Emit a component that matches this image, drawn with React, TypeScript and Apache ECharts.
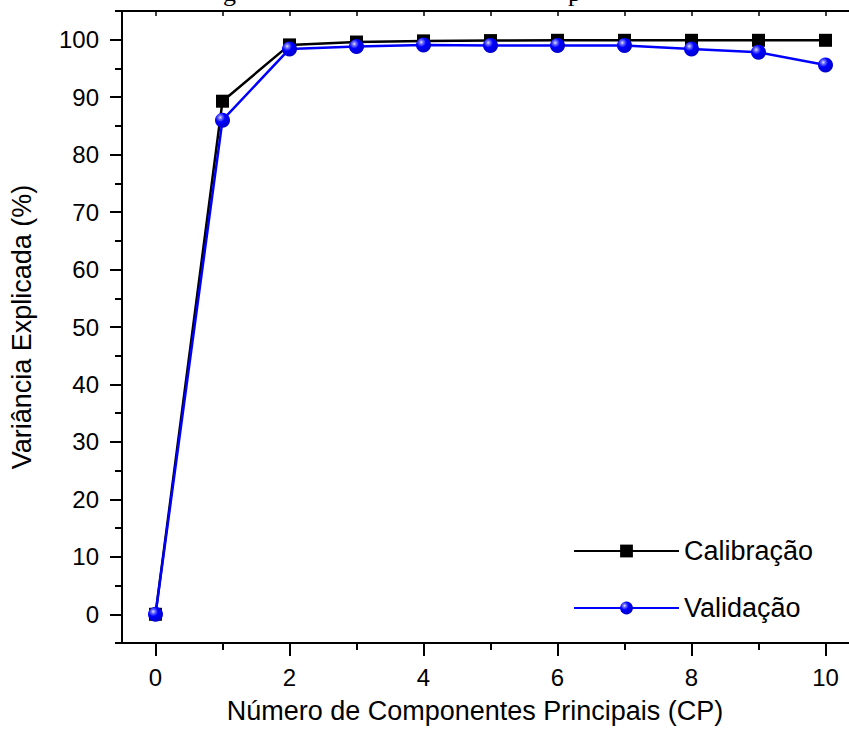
import React, { useEffect, useRef } from "react";
import * as echarts from "echarts";

const components = [0, 1, 2, 3, 4, 5, 6, 7, 8, 9, 10];
const calibracao = [0, 89.3, 99.1, 99.6, 99.8, 99.85, 99.9, 99.9, 99.9, 99.9, 99.9];
const validacao = [0, 86.0, 98.4, 98.8, 99.1, 99.0, 99.0, 99.0, 98.4, 97.8, 95.6];
const xMajorTicks = [0, 2, 4, 6, 8, 10];
const xMinorTicks = [1, 3, 5, 7, 9];
const xTopTicks = [0, 1, 2, 3, 4, 5, 6, 7, 8, 9, 10];
const yMajorTicks = [0, 10, 20, 30, 40, 50, 60, 70, 80, 90, 100];

const FONT = "'Liberation Sans', Arial, sans-serif";

export default function App() {
  const ref = useRef<HTMLDivElement>(null);
  useEffect(() => {
    if (!ref.current) return;
    const chart = echarts.init(ref.current, null, { renderer: "svg" });
    const axisLine = { show: true, onZero: false, lineStyle: { color: "#000", width: 2 } };
    const noLine = { show: false, onZero: false };
    const sphere = new echarts.graphic.RadialGradient(0.35, 0.32, 0.7, [
      { offset: 0, color: "#e8e8ff" },
      { offset: 0.18, color: "#7070ff" },
      { offset: 0.45, color: "#0000ff" },
      { offset: 1, color: "#0000cc" },
    ]);
    chart.setOption({
      animation: false,
      backgroundColor: "#fff",
      grid: { left: 118, top: 11, width: 741, height: 633, containLabel: false },
      xAxis: [
        {
          type: "value",
          min: -0.5,
          max: 10.5,
          position: "bottom",
          axisLine,
          splitLine: { show: false },
          axisTick: {
            show: true,
            inside: false,
            length: 13,
            customValues: xMajorTicks,
            lineStyle: { color: "#000", width: 2 },
          },
          axisLabel: {
            show: true,
            customValues: xMajorTicks,
            margin: 22,
            fontSize: 24,
            fontFamily: FONT,
            color: "#000",
          },
          name: "Número de Componentes Principais (CP)",
          nameLocation: "middle",
          nameGap: 54,
          nameTextStyle: {
            fontSize: 27,
            fontFamily: FONT,
            color: "#000",
            padding: [0, 31, 0, 0],
          },
        },
        {
          type: "value",
          min: -0.5,
          max: 10.5,
          position: "bottom",
          axisLine: noLine,
          splitLine: { show: false },
          axisLabel: { show: false },
          axisTick: {
            show: true,
            length: 7,
            customValues: xMinorTicks,
            lineStyle: { color: "#000", width: 2 },
          },
        },
        {
          type: "value",
          min: -0.5,
          max: 10.5,
          position: "top",
          axisLine,
          splitLine: { show: false },
          axisLabel: { show: false },
          axisTick: {
            show: true,
            inside: true,
            length: 5,
            customValues: xTopTicks,
            lineStyle: { color: "#000", width: 1.5 },
          },
        },
      ],
      yAxis: [
        {
          type: "value",
          min: -5,
          max: 105,
          position: "left",
          axisLine,
          splitLine: { show: false },
          axisTick: {
            show: true,
            length: 12,
            customValues: yMajorTicks,
            lineStyle: { color: "#000", width: 2 },
          },
          axisLabel: {
            show: true,
            customValues: yMajorTicks,
            margin: 23,
            fontSize: 24,
            fontFamily: FONT,
            color: "#000",
          },
          name: "Variância Explicada (%)",
          nameLocation: "middle",
          nameGap: 87,
          nameTextStyle: { fontSize: 27, fontFamily: FONT, color: "#000" },
        },
        {
          type: "value",
          min: -5,
          max: 105,
          interval: 5,
          position: "left",
          axisLine: noLine,
          splitLine: { show: false },
          axisLabel: { show: false },
          axisTick: { show: true, length: 7, lineStyle: { color: "#000", width: 2 } },
        },
      ],
      legend: {
        orient: "vertical",
        left: 573,
        top: 536,
        padding: 0,
        itemWidth: 105,
        itemHeight: 16,
        itemGap: 27,
        textStyle: { fontSize: 27, fontFamily: FONT, color: "#000", lineHeight: 30, padding: [0, 0, 0, 0] },
        data: ["Calibração", "Validação"],
      },
      graphic: [
        {
          type: "text",
          left: 223,
          top: -21,
          style: { text: "g", fontSize: 26, fontFamily: "'Liberation Serif', serif", fill: "#000" },
        },
        {
          type: "text",
          left: 568,
          top: -21,
          style: { text: "p", fontSize: 26, fontFamily: "'Liberation Serif', serif", fill: "#000" },
        },
      ],
      series: [
        {
          name: "Calibração",
          type: "line",
          xAxisIndex: 0,
          yAxisIndex: 0,
          data: components.map((c, i) => [c, calibracao[i]]),
          symbol: "rect",
          symbolSize: 13,
          lineStyle: { color: "#000", width: 2.5 },
          itemStyle: { color: "#000" },
          z: 2,
        },
        {
          name: "Validação",
          type: "line",
          xAxisIndex: 0,
          yAxisIndex: 0,
          data: components.map((c, i) => [c, validacao[i]]),
          symbol: "circle",
          symbolSize: 15,
          lineStyle: { color: "#0000ff", width: 2.5 },
          itemStyle: { color: sphere },
          z: 3,
        },
      ],
    });
    return () => chart.dispose();
  }, []);
  return (
    <div
      style={{
        position: "fixed",
        left: 0,
        top: 0,
        width: 849,
        height: 729,
        overflow: "hidden",
        background: "#fff",
      }}
    >
      <div ref={ref} style={{ width: 880, height: 729 }} />
    </div>
  );
}
